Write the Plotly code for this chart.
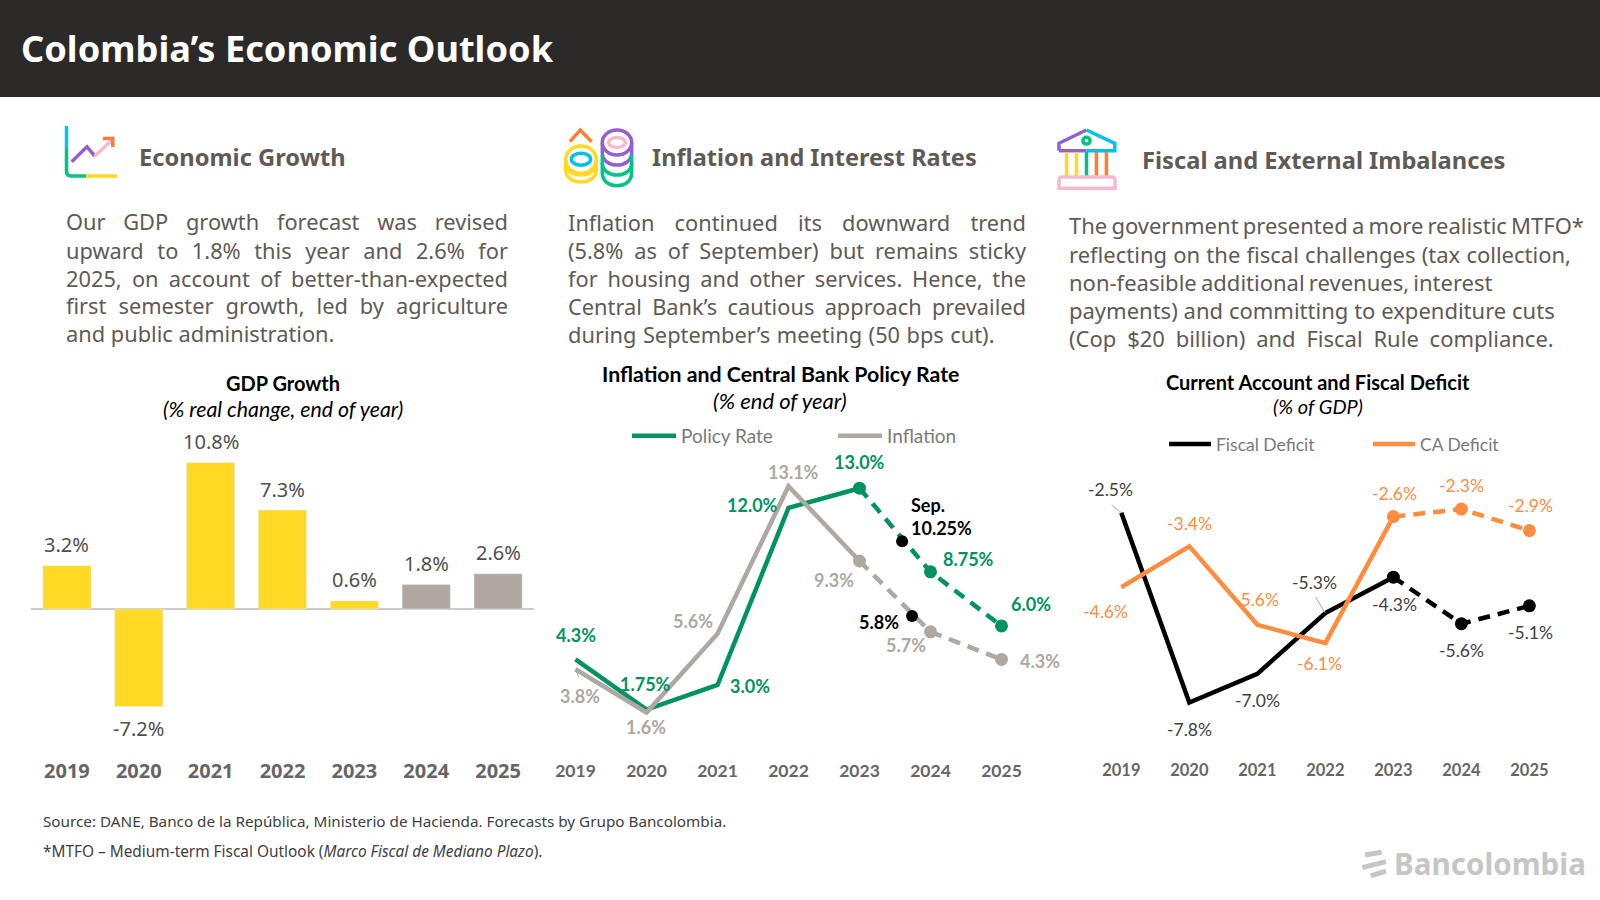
import json
import re
import plotly.graph_objects as go

# ---------- data ----------
years = [2019, 2020, 2021, 2022, 2023, 2024, 2025]
gdp_growth = [3.2, -7.2, 10.8, 7.3, 0.6, 1.8, 2.6]
gdp_labels = ["3.2%", "-7.2%", "10.8%", "7.3%", "0.6%", "1.8%", "2.6%"]

policy_rate = [4.3, 1.75, 3.0, 12.0, 13.0, 8.75, 6.0]
policy_labels = ["4.3%", "1.75%", "3.0%", "12.0%", "13.0%", "8.75%", "6.0%"]
inflation = [3.8, 1.6, 5.6, 13.1, 9.3, 5.7, 4.3]
inflation_labels = ["3.8%", "1.6%", "5.6%", "13.1%", "9.3%", "5.7%", "4.3%"]
sep_x = [2023.6, 2023.74]
sep_y = [10.3, 6.5]

fiscal_deficit = [-2.5, -7.8, -7.0, -5.3, -4.3, -5.6, -5.1]
fiscal_labels = ["-2.5%", "-7.8%", "-7.0%", "-5.3%", "-4.3%", "-5.6%", "-5.1%"]
ca_deficit = [-4.58, -3.44, -5.63, -6.14, -2.61, -2.40, -3.00]
ca_labels = ["-4.6%", "-3.4%", "-5.6%", "-6.1%", "-2.6%", "-2.3%", "-2.9%"]

para1 = ["Our GDP growth forecast was revised", "upward to 1.8% this year and 2.6% for",
         "2025, on account of better-than-expected", "first semester growth, led by agriculture",
         "and public administration."]
para2 = ["Inflation continued its downward trend", "(5.8% as of September) but remains sticky",
         "for housing and other services. Hence, the", "Central Bank’s cautious approach prevailed",
         "during September’s meeting (50 bps cut)."]
para3 = ["The government presented a more realistic MTFO*",
         "reflecting on the fiscal challenges (tax collection,",
         "non-feasible additional revenues, interest",
         "payments) and committing to expenditure cuts",
         "(Cop $20 billion) and Fiscal Rule compliance."]

# ---------- style ----------
W, H = 1600, 900
YELLOW = "#FFD923"; STONE = "#AEA8A1"; GREEN = "#00935F"; ORANGE = "#FF8C3F"
CYAN = "#00C1E8"; PURPLE = "#9360D2"; PINK = "#F6B9CF"; MINT = "#00C389"; ICON_O = "#FF7F32"
BODY = "#5F5A55"; TICK = "#666666"
SANS = "Noto Sans"; CAL = "Lato"

def px(x): return x / W
def py(y): return 1 - y / H

def path(s):
    out, isx = [], True
    for tok in s.split():
        if re.fullmatch(r"[A-Za-z]", tok):
            out.append(tok); isx = True
        else:
            v = float(tok)
            out.append(f"{px(v):.5f}" if isx else f"{py(v):.5f}")
            isx = not isx
    return " ".join(out)

fig = go.Figure()
ann = []
shapes = []

def note(text, x, y, size, color, family=SANS, anchor="left", bold=False, italic=False):
    if bold: text = f"<b>{text}</b>"
    if italic: text = f"<i>{text}</i>"
    ann.append(dict(text=text, xref="paper", yref="paper", x=px(x), y=py(y), xanchor=anchor,
                    yanchor="middle", align=anchor, showarrow=False,
                    font=dict(size=size, color=color, family=family)))

def dlabel(axis, x, y, text, dx, dy, color, size=17, family=SANS, bold=False, anchor="center", align="center"):
    if bold: text = f"<b>{text}</b>"
    ann.append(dict(text=text, xref=f"x{axis}", yref=f"y{axis}", x=x, y=y, xshift=dx, yshift=dy,
                    xanchor=anchor, yanchor="middle", align=align, showarrow=False,
                    font=dict(size=size, color=color, family=family)))

def leader(axis, x, y, ax, ay):
    ann.append(dict(text=" ", xref=f"x{axis}", yref=f"y{axis}", x=x, y=y, ax=ax, ay=ay, axref="pixel", ayref="pixel",
                    showarrow=True, arrowhead=0, arrowwidth=1, arrowcolor="#A6A6A6", standoff=0,
                    font=dict(size=1)))

def stroke(d, color, width=3.5):
    shapes.append(dict(type="path", xref="paper", yref="paper", path=path(d),
                       line=dict(color=color, width=width)))

def ring(cx, cy, rx, ry, color, width=3.5):
    shapes.append(dict(type="circle", xref="paper", yref="paper",
                       x0=px(cx - rx), x1=px(cx + rx), y0=py(cy + ry), y1=py(cy - ry),
                       line=dict(color=color, width=width)))

def arc(cx, y, rx, k, color):
    stroke(f"M {cx-rx} {y} C {cx-rx} {y+k} {cx+rx} {y+k} {cx+rx} {y}", color)

# ---------- charts ----------
fig.add_trace(go.Bar(x=years, y=gdp_growth, marker_color=[YELLOW] * 5 + [STONE] * 2, width=0.67,
                     showlegend=False, hoverinfo="skip", xaxis="x", yaxis="y"))

def two_part(x, y, color, name, axis, legend):
    fig.add_trace(go.Scatter(x=x[:5], y=y[:5], mode="lines", name=name, line=dict(color=color, width=4.5),
                             xaxis=f"x{axis}", yaxis=f"y{axis}", legend=legend, hoverinfo="skip"))
    fig.add_trace(go.Scatter(x=x[4:], y=y[4:], mode="lines+markers", showlegend=False,
                             line=dict(color=color, width=4.5, dash="12px,8px"), marker=dict(color=color, size=13),
                             xaxis=f"x{axis}", yaxis=f"y{axis}", hoverinfo="skip"))

two_part(years, policy_rate, GREEN, "Policy Rate", 2, "legend")
two_part(years, inflation, STONE, "Inflation", 2, "legend")
fig.add_trace(go.Scatter(x=sep_x, y=sep_y, mode="markers", marker=dict(color="black", size=12), showlegend=False,
                         xaxis="x2", yaxis="y2", hoverinfo="skip"))
two_part(years, fiscal_deficit, "black", "Fiscal Deficit", 3, "legend2")
two_part(years, ca_deficit, ORANGE, "CA Deficit", 3, "legend2")

# ---------- data labels ----------
for yr, v, t in zip(years, gdp_growth, gdp_labels):
    dlabel("", yr, v, t, 0, 21 if v > 0 else -22, "#505050", size=20)

pol_off = [(0, 24), (-1, 26), (32, -1), (-36, 3), (0, 26), (38, 13), (29, 22)]
inf_off = [(4, -27), (-1, -14), (-25, 13), (5, 14), (-26, -19), (-25, -13), (38, -2)]
for yr, v, t, (dx, dy) in zip(years, policy_rate, policy_labels, pol_off):
    dlabel("2", yr, v, t, dx, dy, GREEN, size=18, bold=True, family=CAL)
for yr, v, t, (dx, dy) in zip(years, inflation, inflation_labels, inf_off):
    dlabel("2", yr, v, t, dx, dy, STONE, size=18, bold=True, family=CAL)
dlabel("2", sep_x[0], sep_y[0], "Sep.<br>10.25%", 7, 25, "black", size=18, bold=True, family=CAL, anchor="left", align="left")
dlabel("2", sep_x[1], sep_y[1], "5.8%", -33, -6, "black", size=18, bold=True, family=CAL)
leader("2", years[0], inflation[0], 4, 10)

fis_off = [(-11, 23), (0, -27), (0, -27), (-11, 31), (1, -27), (0, -27), (1, -27)]
ca_off = [(-16, -24), (0, 23), (-1, 25), (-6, -20), (1, 23), (0, 24), (1, 25)]
for yr, v, t, (dx, dy) in zip(years, fiscal_deficit, fiscal_labels, fis_off):
    dlabel("3", yr, v, t, dx, dy, "#404040", size=17.5, family=CAL)
for yr, v, t, (dx, dy) in zip(years, ca_deficit, ca_labels, ca_off):
    dlabel("3", yr, v, t, dx, dy, ORANGE, size=17.5, family=CAL)
leader("3", years[0], fiscal_deficit[0], -11, -9)
leader("3", years[3], fiscal_deficit[3], -11, -18)

# ---------- header and text ----------
shapes.append(dict(type="rect", xref="paper", yref="paper", x0=0, x1=1, y0=py(97), y1=1,
                   fillcolor="#2C2A29", line=dict(width=0), layer="below"))
note("Colombia’s Economic Outlook", 19, 48, 36.2, "white", bold=True)
note("Economic Growth", 136.5, 157, 23.7, BODY, bold=True)
note("Inflation and Interest Rates", 650, 157, 23.5, BODY, bold=True)
note("Fiscal and External Imbalances", 1140, 160, 23.7, BODY, bold=True)

for t, y in zip(para1, [221.4, 250, 278, 305, 333.5]):
    note(t, 63.5, y, 21.8, BODY)
for t, y in zip(para2, [222.5, 250, 278.6, 306, 334.7]):
    note(t, 566.4, y, 21.8, BODY)
for t, y in zip(para3, [225.5, 254, 281.7, 309.5, 337.8]):
    note(t, 1067, y, 22, BODY)

for title, sub, x, y1, y2, s1, s2 in [("GDP Growth", "(% real change, end of year)", 282.6, 383, 409, 20, 21.3),
                                      ("Inflation and Central Bank Policy Rate", "(% end of year)", 780, 373.5, 400, 21.3, 22),
                                      ("Current Account and Fiscal Deficit", "(% of GDP)", 1317.6, 381.6, 406, 20, 20)]:
    note(title, x, y1, s1, "black", family=CAL, anchor="center", bold=True)
    note(sub, x, y2, s2, "black", family=CAL, anchor="center", italic=True)

note("Source: DANE, Banco de la República, Ministerio de Hacienda. Forecasts by Grupo Bancolombia.", 41, 821.4, 15.25, "#404040")
note("*MTFO – Medium-term Fiscal Outlook (<i>Marco Fiscal de Mediano Plazo</i>).", 41, 851, 15.4, "#404040")
note("Bancolombia", 1392, 863, 29.6, "#C6C6C6", bold=True)

# ---------- icons ----------
stroke("M 66.5 126 L 66.5 148", CYAN)
stroke("M 66.5 148 L 66.5 171 Q 66.5 176 71 176 L 86 176", MINT)
stroke("M 86 176 L 117 176", YELLOW)
stroke("M 71.7 161.7 L 86.9 146.7 L 94.8 156", PURPLE)
stroke("M 94.8 156 L 112.8 139.3", PINK)
stroke("M 102.8 138.5 L 112.8 138.5 L 112.8 147", ICON_O)

stroke("M 569.9 141.7 L 580.2 130 L 591.7 141.7", ICON_O)
ring(581, 159.7, 15.3, 13.7, YELLOW)
ring(581, 159.3, 9.6, 6, CYAN)
stroke("M 565.7 160 L 565.7 170 C 565.7 186 596.3 186 596.3 170 L 596.3 160", YELLOW)
arc(581, 163, 15.3, 16, YELLOW)
ring(617, 142.5, 14.7, 12.5, PURPLE)
ring(617, 142.5, 8.4, 5, PINK)
stroke("M 602.3 143 L 602.3 153 C 602.3 169 631.7 169 631.7 153 L 631.7 143", PURPLE)
stroke("M 602.3 155 L 602.3 173 C 602.3 190 631.7 190 631.7 173 L 631.7 155", MINT)
arc(617, 163, 14.7, 16, MINT)

stroke("M 1059 150.7 L 1059 143.3 L 1086.5 130", PURPLE)
stroke("M 1059 150.7 L 1086.5 150.7", PURPLE)
stroke("M 1086.5 130 L 1114.8 143.3 L 1114.8 150.7 L 1086.5 150.7", CYAN)
ring(1086.5, 140.7, 3.6, 3.4, MINT)
for x, c in [(1066.6, YELLOW), (1076.5, YELLOW), (1086.5, MINT), (1096.4, ICON_O), (1106.4, ICON_O)]:
    stroke(f"M {x} 152 L {x} 176", c)
stroke("M 1062 177 L 1112 177 Q 1115 177 1115 181 L 1115 188.3 L 1059 188.3 L 1059 181 Q 1059 177 1062 177 Z", PINK)

stroke("M 1365 855 L 1381.7 852.3", "#C6C6C6", 5)
stroke("M 1362.3 867.7 L 1386 861.7", "#C6C6C6", 5)
stroke("M 1370.7 876 L 1386 871", "#C6C6C6", 5)

# ---------- layout ----------
def xax(x0, x1, size=20, family=SANS, anchor="y", standoff=0):
    return dict(domain=[px(x0), px(x1)], range=[2018.5, 2025.5], tickvals=years, tickformat="d", anchor=anchor,
                showgrid=False, zeroline=False, showline=False, ticks="", fixedrange=True, ticklabelstandoff=standoff,
                tickfont=dict(size=size, color=TICK, family=family, weight=700))

def yax(top, bot, r0, r1, anchor, zero=False):
    return dict(domain=[py(bot), py(top)], range=[r0, r1], anchor=anchor, showgrid=False, showticklabels=False,
                zeroline=zero, zerolinecolor="#CFCBC6", zerolinewidth=1.5, showline=False, ticks="", fixedrange=True)

legend_common = dict(orientation="h", xanchor="left", yanchor="middle", entrywidthmode="pixels",
                     bgcolor="rgba(0,0,0,0)", borderwidth=0, itemclick=False, itemdoubleclick=False,
                     traceorder="normal")

fig.update_layout(
    width=W, height=H, autosize=False, margin=dict(l=0, r=0, t=0, b=0), paper_bgcolor="white", plot_bgcolor="white",
    barmode="overlay", hovermode=False, annotations=ann, shapes=shapes,
    font=dict(family=SANS),
    xaxis=xax(31, 534, anchor="y", standoff=-1),
    yaxis=yax(441, 758, -10.996, 12.399, "x", zero=True),
    xaxis2=xax(540, 1037, anchor="y2", family=CAL, size=17.5, standoff=1),
    yaxis2=yax(440, 757, -0.66, 15.45, "x2"),
    xaxis3=xax(1087.3, 1563.4, anchor="y3", family=CAL, size=16.5, standoff=1),
    yaxis3=yax(460, 757, -9.318, -1.03, "x3"),
    legend=dict(x=px(627), y=py(436), itemwidth=44, entrywidth=147, font=dict(size=19, color="#7A7A7A", family=CAL), **legend_common),
    legend2=dict(x=px(1164), y=py(444), itemwidth=42, entrywidth=147, font=dict(size=17.5, color="#7A7A7A", family=CAL), **legend_common),
)

widths = {para1[i]: 442 for i in range(4)}
widths.update({para2[i]: 458 for i in range(4)})
widths[para1[4]] = 268.4
widths[para2[4]] = 426.5
widths.update(dict(zip(para3, [515, 502, 423.5, 485.7, 484.7])))
post = ("document.body.style.margin='0';var T=" + json.dumps(widths, ensure_ascii=False) + ";"
        "document.querySelectorAll('.annotation-text').forEach(function(t){var w=T[t.textContent];"
        "if(w){var n=t.textContent.split(' ').length-1;t.style.wordSpacing='0px';"
        "t.style.wordSpacing=((w-t.getComputedTextLength())/n)+'px';}});")
fig.write_html("out.html", post_script=post, config=dict(displayModeBar=False))
